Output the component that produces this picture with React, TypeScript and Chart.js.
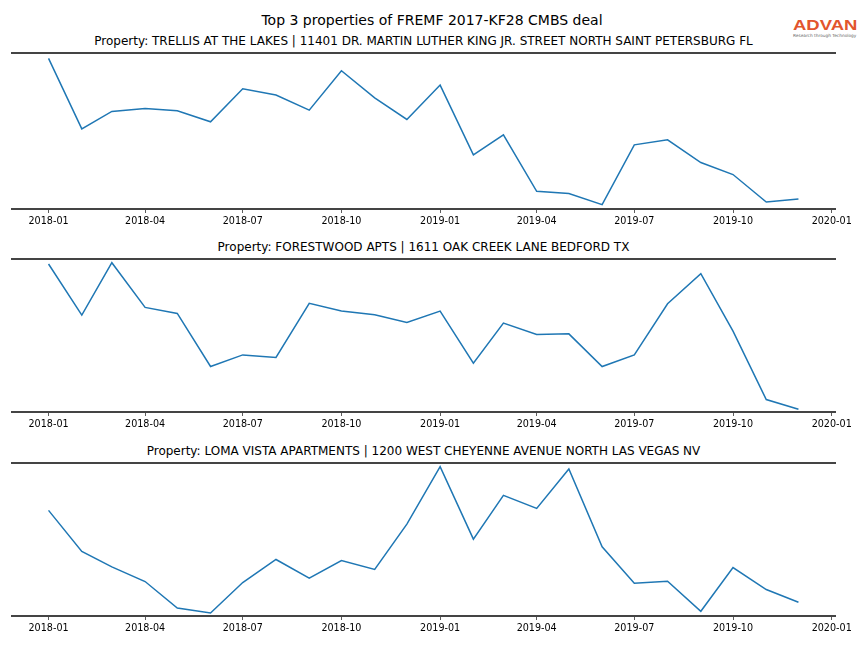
import React, { useEffect, useRef } from 'react';
import { Chart, registerables } from 'chart.js';

Chart.register(...registerables);

const MAIN_TITLE = 'Top 3 properties of FREMF 2017-KF28 CMBS deal';

const MONTHS = [
  '2018-01', '2018-02', '2018-03', '2018-04', '2018-05', '2018-06',
  '2018-07', '2018-08', '2018-09', '2018-10', '2018-11', '2018-12',
  '2019-01', '2019-02', '2019-03', '2019-04', '2019-05', '2019-06',
  '2019-07', '2019-08', '2019-09', '2019-10', '2019-11', '2019-12',
];

const TICK_LABELS = [
  '2018-01', '2018-04', '2018-07', '2018-10', '2019-01',
  '2019-04', '2019-07', '2019-10', '2020-01',
];

const TITLES = [
  'Property: TRELLIS AT THE LAKES | 11401 DR. MARTIN LUTHER KING JR. STREET NORTH SAINT PETERSBURG FL',
  'Property: FORESTWOOD APTS | 1611 OAK CREEK LANE BEDFORD TX',
  'Property: LOMA VISTA APARTMENTS | 1200 WEST CHEYENNE AVENUE NORTH LAS VEGAS NV',
];

const TRELLIS = [
  150.4, 80, 97.4, 100.4, 98, 87, 120, 113.7, 98.7, 138, 111, 89.4,
  123.7, 54, 74, 17.7, 15.4, 4.4, 64, 69, 46.4, 34.4, 7, 10,
];

const FORESTWOOD = [
  147.7, 96.7, 149, 104.4, 98.4, 45.4, 57, 54.4, 108.4, 100.7, 97, 89.4,
  100.7, 48.7, 88.7, 77.4, 78, 45.4, 57, 108, 138, 80.7, 12.4, 2.7,
];

const LOMA_VISTA = [
  105.4, 64.4, 49, 34.4, 8, 3, 33.4, 56.4, 37.7, 55.4, 46.4, 91.7,
  149, 76.7, 120.4, 107.4, 146.7, 69, 32.7, 34.7, 4.7, 48.4, 26.4, 13.7,
];

const Y_MAX = [155.7, 152.7, 152.7];

// layout
const SPINE_TOP = [53, 259, 463];
const SPINE_BOTTOM = [209, 412, 616];
const PAD_T = 10;
const AXIS_H = 26;
const PLOT_LEFT = 11;
const PLOT_RIGHT = 836;
const W = 864;

function dayIndex(s: string): number {
  const [y, m] = s.split('-').map(Number);
  return (Date.UTC(y, m - 1, 1) - Date.UTC(2018, 0, 1)) / 86400000;
}

const spinesPlugin = {
  id: 'spines',
  afterDraw(chart: any) {
    const { ctx, chartArea: a } = chart;
    ctx.save();
    ctx.strokeStyle = '#444444';
    ctx.lineWidth = 1.8;
    ctx.beginPath();
    ctx.moveTo(a.left, a.top);
    ctx.lineTo(a.right, a.top);
    ctx.moveTo(a.left, a.bottom);
    ctx.lineTo(a.right, a.bottom);
    ctx.stroke();
    ctx.restore();
  },
};

function Panel({ idx, values }: { idx: number; values: number[] }) {
  const ref = useRef<HTMLCanvasElement | null>(null);
  const top = SPINE_TOP[idx] - PAD_T;
  const height = SPINE_BOTTOM[idx] - SPINE_TOP[idx] + PAD_T + AXIS_H;

  useEffect(() => {
    if (!ref.current) return;
    const chart = new Chart(ref.current, {
      type: 'line',
      data: {
        datasets: [
          {
            data: values.map((v, i) => ({ x: dayIndex(MONTHS[i]), y: v })),
            borderColor: '#1f77b4',
            borderWidth: 1.5,
            pointRadius: 0,
            fill: false,
            tension: 0,
          },
        ],
      },
      options: {
        animation: false,
        responsive: false,
        devicePixelRatio: 1,
        layout: {
          padding: { left: PLOT_LEFT, right: W - PLOT_RIGHT, top: PAD_T, bottom: 0 },
        },
        plugins: {
          legend: { display: false },
          tooltip: { enabled: false },
          title: { display: false },
        },
        scales: {
          x: {
            type: 'linear',
            min: -35,
            max: 734,
            afterBuildTicks: (scale: any) => {
              scale.ticks = TICK_LABELS.map((l) => ({ value: dayIndex(l) }));
            },
            afterFit: (scale: any) => {
              scale.height = AXIS_H;
            },
            ticks: {
              autoSkip: false,
              maxRotation: 0,
              padding: 3,
              color: '#000000',
              font: { family: 'DejaVu Sans', size: 9.6 },
              callback: (_v: any, i: number) => TICK_LABELS[i],
            },
            grid: {
              display: true,
              drawOnChartArea: false,
              drawTicks: true,
              tickLength: 4,
              color: '#333333',
              lineWidth: 0.8,
            },
            border: { display: false },
          },
          y: {
            display: false,
            min: 0,
            max: Y_MAX[idx],
          },
        },
      },
      plugins: [spinesPlugin],
    } as any);
    return () => chart.destroy();
  }, [idx, values]);

  return (
    <>
      <div
        style={{
          position: 'absolute',
          left: PLOT_LEFT,
          width: PLOT_RIGHT - PLOT_LEFT,
          top: SPINE_TOP[idx] - 19,
          textAlign: 'center',
          fontFamily: 'DejaVu Sans',
          fontSize: 12,
          lineHeight: '14px',
          color: '#000',
          whiteSpace: 'nowrap',
        }}
      >
        {TITLES[idx]}
      </div>
      <canvas
        ref={ref}
        width={W}
        height={height}
        style={{ position: 'absolute', left: 0, top, width: W, height }}
      />
    </>
  );
}

export default function App() {
  return (
    <div
      style={{
        position: 'fixed',
        left: 0,
        top: 0,
        width: 864,
        height: 648,
        background: '#fff',
        overflow: 'hidden',
      }}
    >
      <div
        style={{
          position: 'absolute',
          left: 0,
          width: 864,
          top: 11,
          textAlign: 'center',
          fontFamily: 'DejaVu Sans',
          fontSize: 14,
          lineHeight: '18px',
          color: '#000',
        }}
      >
        {MAIN_TITLE}
      </div>
      <div style={{ position: 'absolute', left: 793, top: 18, width: 68 }}>
        <div
          style={{
            fontFamily: 'Liberation Sans',
            fontWeight: 'bold',
            fontSize: 14,
            lineHeight: '15px',
            color: '#e2552d',
            transform: 'scaleX(1.32)',
            transformOrigin: 'left center',
            whiteSpace: 'nowrap',
          }}
        >
          ADVAN
        </div>
        <div
          style={{
            marginTop: 0,
            fontFamily: 'DejaVu Sans',
            fontSize: 4.3,
            lineHeight: '5px',
            color: '#666',
            whiteSpace: 'nowrap',
          }}
        >
          Research through Technology
        </div>
      </div>
      <Panel idx={0} values={TRELLIS} />
      <Panel idx={1} values={FORESTWOOD} />
      <Panel idx={2} values={LOMA_VISTA} />
    </div>
  );
}
